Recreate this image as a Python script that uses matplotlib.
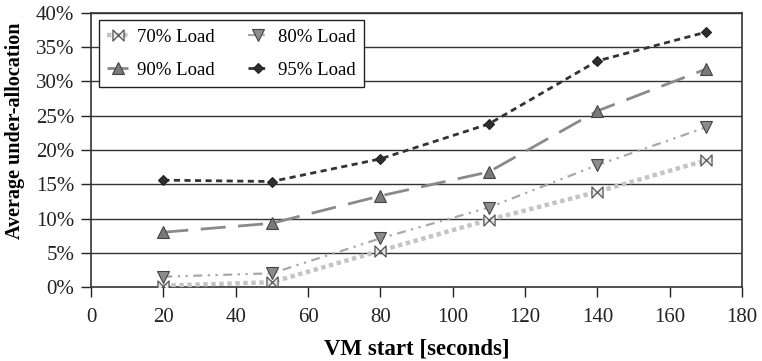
import matplotlib
matplotlib.use("Agg")
import matplotlib.pyplot as plt
from matplotlib.path import Path

x = [20, 50, 80, 110, 140, 170]
load70 = [0.2, 0.7, 5.3, 9.8, 13.9, 18.5]
load80 = [1.5, 2.0, 7.1, 11.6, 17.8, 23.3]
load90 = [8.0, 9.3, 13.3, 16.8, 25.7, 31.8]
load95 = [15.6, 15.4, 18.7, 23.8, 33.0, 37.2]
labels = ["70% Load", "80% Load", "90% Load", "95% Load"]
xticks = list(range(0, 181, 20))
yticks = list(range(0, 41, 5))

plt.rcParams['font.family'] = 'serif'
plt.rcParams['font.serif'] = ['Liberation Serif']

fig = plt.figure(figsize=(7.62, 3.61), dpi=100)
ax = fig.add_axes([91/762, 1-287/361, (742-91)/762, (287-13)/361])

bowtie = Path([(-1, -1), (1, 1), (1, -1), (-1, 1), (-1, -1)],
              [Path.MOVETO, Path.LINETO, Path.LINETO, Path.LINETO, Path.CLOSEPOLY])

for yt in yticks[1:]:
    ax.axhline(yt, color='#333333', lw=1.0, zorder=1)

h70, = ax.plot(x, load70, color='#c4c4c4', lw=3.2, linestyle=(0, (1, 0.8)),
        marker=bowtie, markersize=8, markerfacecolor='#e6e6e6',
        markeredgecolor='#555555', markeredgewidth=0.9, label=labels[0], zorder=3)
h80, = ax.plot(x, load80, color='#a8a8a8', lw=1.6, linestyle=(0, (4, 2.5, 1, 2.5, 1, 2.5)),
        marker='v', markersize=8, markerfacecolor='#8c8c8c',
        markeredgecolor='#444444', markeredgewidth=0.8, label=labels[1], zorder=3)
h90, = ax.plot(x, load90, color='#8a8a8a', lw=2.0, linestyle=(0, (9, 4.5)),
        marker='^', markersize=8, markerfacecolor='#7a7a7a',
        markeredgecolor='#444444', markeredgewidth=0.8, label=labels[2], zorder=3)
h95, = ax.plot(x, load95, color='#333333', lw=2.0, linestyle=(0, (2.2, 1.6)),
        marker='D', markersize=5.5, markerfacecolor='#2e2e2e',
        markeredgecolor='#222222', markeredgewidth=0.8, label=labels[3], zorder=4)

ax.set_xlim(0, 180)
ax.set_ylim(0, 40)
ax.set_xticks(xticks)
ax.set_yticks(yticks)
ax.set_yticklabels([f"{v}%" for v in yticks])
ax.tick_params(axis='both', direction='out', length=7, width=1, labelsize=15, colors='#222222')
ax.tick_params(axis='x', pad=8)
ax.tick_params(axis='y', length=7, pad=5)
for s in ax.spines.values():
    s.set_color('#333333')
    s.set_linewidth(1.2)

ax.set_xlabel("VM start [seconds]", fontsize=16.5, fontweight='bold')
ax.xaxis.set_label_coords(0.5, -(339 - 287) / 274)
ax.set_ylabel("Average under-allocation", fontsize=14.5, fontweight='bold')
ax.yaxis.set_label_coords(-(91 - 25) / 651, 0.57)

leg = ax.legend([h70, h90, h80, h95], [labels[0], labels[2], labels[1], labels[3]],
                ncol=2, loc='upper left', bbox_to_anchor=((99 - 91) / 651, (287 - 20) / 274),
                borderaxespad=0, fontsize=13.5,
                frameon=True, fancybox=False, edgecolor='#222222', framealpha=1,
                handlelength=1.1, columnspacing=1.75, handletextpad=0.5,
                borderpad=0.45, labelspacing=0.85)
leg.get_frame().set_linewidth(1.0)

fig.savefig("out.png", dpi=100)
